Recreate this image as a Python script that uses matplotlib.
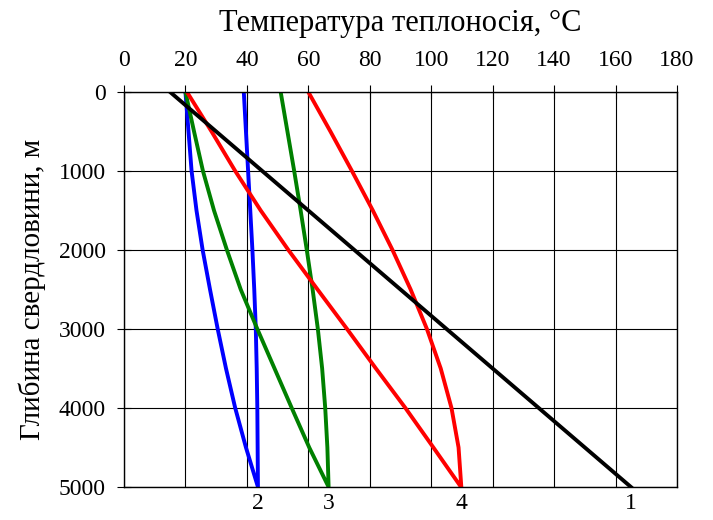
import matplotlib
matplotlib.use("Agg")
import matplotlib.pyplot as plt

plt.rcParams["font.family"] = ["Liberation Serif", "DejaVu Serif"]

# depth of the well, m
depth = [0, 500, 1000, 1500, 2000, 2500, 3000, 3500, 4000, 4500, 5000]

# curve 1 - straight line
black_depth = [0, 5000]
black_temp = [15, 165]

# curve 2 (blue): outer and inner branches
blue_out = [20.0, 21.0, 22.0, 23.6, 25.6, 28.0, 30.5, 33.2, 36.2, 39.7, 43.6]
blue_in = [39.0, 39.7, 40.4, 41.1, 41.8, 42.4, 42.9, 43.2, 43.4, 43.5, 43.6]

# curve 3 (green)
green_out = [20.0, 22.8, 25.7, 29.3, 33.5, 38.0, 43.4, 49.0, 54.6, 60.3, 66.6]
green_in = [51.0, 53.2, 55.4, 57.5, 59.5, 61.4, 63.1, 64.5, 65.5, 66.2, 66.6]

# curve 4 (red)
red_out = [20.5, 28.5, 36.2, 44.5, 53.5, 63.0, 72.6, 82.0, 91.6, 100.7, 109.7]
red_in = [60.0, 67.2, 74.2, 81.0, 87.4, 93.3, 98.6, 103.1, 106.6, 108.9, 109.8]

curve_labels = ["2", "3", "4", "1"]
label_temps = [blue_out[-1], green_out[-1], red_out[-1], black_temp[-1]]

x_ticks = list(range(0, 181, 20))
y_ticks = list(range(0, 5001, 1000))


def plot_branch(ax, outer, inner, color):
    xs = outer + inner[::-1]
    ys = depth + depth[::-1]
    ax.plot(xs, ys, color=color, lw=2.8, solid_joinstyle="miter")


fig = plt.figure(figsize=(7.13, 5.2), dpi=100)
ax = fig.add_axes([0.1739, 0.0635, 0.7756, 0.7596])

ax.set_xlim(0, 180)
ax.set_ylim(5000, 0)
ax.set_xticks(x_ticks)
ax.set_yticks(y_ticks)
ax.grid(True, color="black", lw=0.8)
ax.set_axisbelow(True)

plot_branch(ax, blue_out, blue_in, "#0000ff")
plot_branch(ax, green_out, green_in, "#008000")
plot_branch(ax, red_out, red_in, "#ff0000")
ax.plot(black_temp, black_depth, color="black", lw=2.8)

for lab, t in zip(curve_labels, label_temps):
    ax.annotate(lab, xy=(t, 5000), xytext=(0, -4), textcoords="offset points",
                ha="center", va="top", fontsize=17, annotation_clip=False)

ax.xaxis.tick_top()
ax.xaxis.set_label_position("top")
ax.tick_params(axis="x", direction="inout", length=10, width=0.8,
               labelsize=17, pad=10)
ax.tick_params(axis="y", direction="inout", length=10, width=0.8,
               labelsize=17, pad=8)
for s in ax.spines.values():
    s.set_linewidth(1.0)

ax.set_xlabel("Температура теплоносія, °C", fontsize=22, labelpad=14)
ax.set_ylabel("Глибина свердловини, м", fontsize=21, labelpad=9)

fig.savefig("out.png", dpi=100)
